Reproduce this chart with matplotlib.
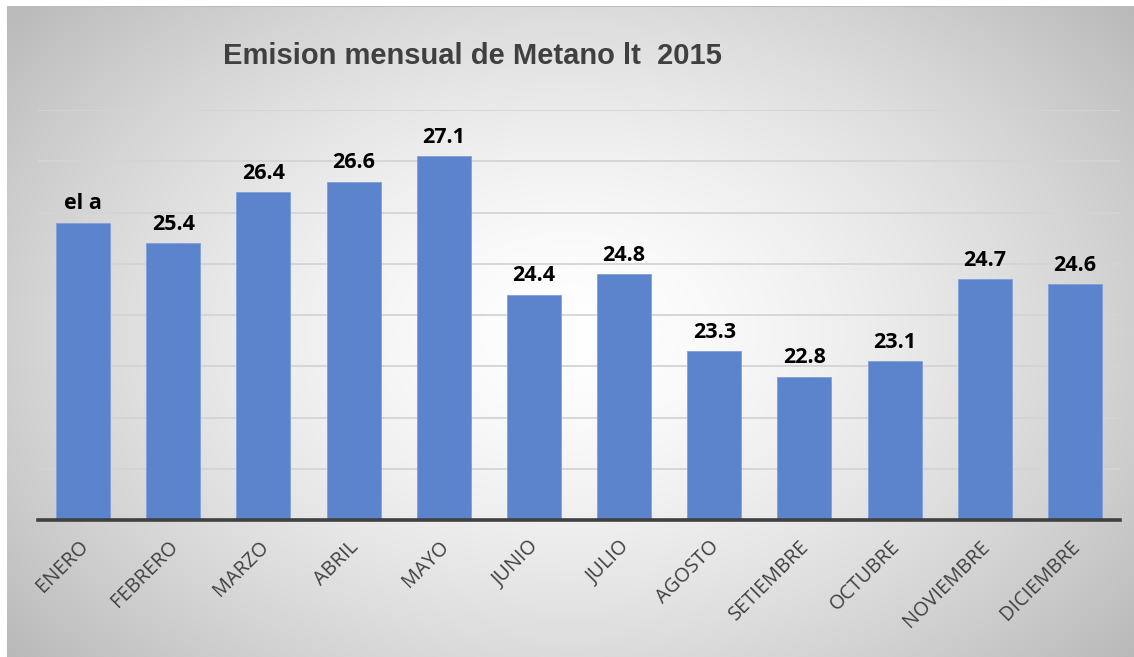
import numpy as np
import matplotlib.pyplot as plt
import matplotlib.transforms as mtransforms

# === Data ===
meses = ['ENERO', 'FEBRERO', 'MARZO', 'ABRIL', 'MAYO', 'JUNIO', 'JULIO',
         'AGOSTO', 'SETIEMBRE', 'OCTUBRE', 'NOVIEMBRE', 'DICIEMBRE']
emision = [25.8, 25.4, 26.4, 26.6, 27.1, 24.4, 24.8, 23.3, 22.8, 23.1, 24.7, 24.6]
etiquetas = ['el a', '25.4', '26.4', '26.6', '27.1', '24.4', '24.8',
             '23.3', '22.8', '23.1', '24.7', '24.6']

W, H = 1134, 657
fig = plt.figure(figsize=(W / 100, H / 100), dpi=100)
fig.patch.set_facecolor('white')

# === Background with radial gradient ===
bx0, by0 = 7, 6
bg = fig.add_axes([bx0 / W, 0, (W - bx0) / W, (H - by0) / H], zorder=0)
ny, nx = 300, 520
yy, xx = np.mgrid[0:1:ny * 1j, 0:1:nx * 1j]
r = np.sqrt(((xx - 0.5) / 0.6) ** 2 + ((yy - 0.5) / 0.72) ** 2)
r = np.clip(r, 0, 1.2)
val = (255 - 62 * r ** 1.5) / 255
bg.imshow(np.dstack([val, val, val]), aspect='auto', extent=[0, 1, 0, 1],
          vmin=0, vmax=1, interpolation='bilinear')
bg.plot([0, 1], [1, 1], color='#bdbdbd', lw=1.5, transform=bg.transAxes)
bg.set_axis_off()

# === Bar chart ===
left, right, base, top = 38, 1120, 520, 110
ax = fig.add_axes([left / W, (H - base) / H, (right - left) / W, (base - top) / H], zorder=1)
ax.patch.set_alpha(0)

x = np.arange(len(meses))
ax.bar(x, emision, width=0.6, color='#5b84cc', edgecolor='#7fa0da', linewidth=0.6, zorder=3)
ax.set_xlim(-0.5, len(meses) - 0.5)
ax.set_ylim(20, 28)
ax.set_yticks(np.arange(21, 29, 1))
ax.yaxis.grid(True, color='#d4d4d4', lw=1.3, zorder=0)
ax.tick_params(axis='y', left=False, labelleft=False)

for s in ['top', 'right', 'left']:
    ax.spines[s].set_visible(False)
ax.spines['bottom'].set_color('#404040')
ax.spines['bottom'].set_linewidth(2.6)
ax.spines['bottom'].set_zorder(4)

ax.set_xticks(x)
ax.set_xticklabels(meses, rotation=45, ha='right', rotation_mode='anchor',
                   fontsize=14.3, color='#404040', family='Open Sans')
ax.tick_params(axis='x', length=0, pad=12)
shift = mtransforms.ScaledTranslation(-5 / 100, 0, fig.dpi_scale_trans)
for lbl in ax.get_xticklabels():
    lbl.set_transform(lbl.get_transform() + shift)

for xi, v, t in zip(x, emision, etiquetas):
    ax.annotate(t, (xi, v), xytext=(0, 6), textcoords='offset points',
                ha='center', va='bottom', fontsize=15.5, fontweight='bold',
                family='Open Sans', color='black', clip_on=False)

fig.text(472 / W, 1 - 56 / H, 'Emision mensual de Metano lt  2015',
         ha='center', va='center', fontsize=21, fontweight='bold',
         color='#404040', family='Liberation Sans')

fig.savefig('out.png', dpi=100)
